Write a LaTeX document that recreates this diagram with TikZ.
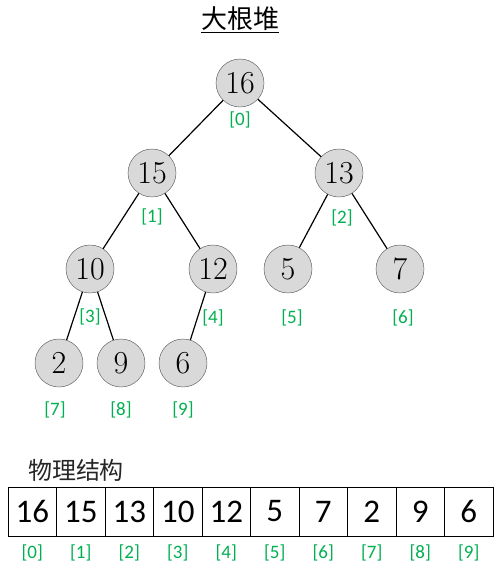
\documentclass[tikz,border=0pt]{standalone}
\usepackage{fontspec}
\newfontfamily\cjk{Noto Sans CJK SC}
\newfontfamily\calib{Carlito}
\usepackage{tikz}
\definecolor{idxgreen}{RGB}{0,176,80}
\definecolor{nodegray}{RGB}{217,217,217}

\begin{document}
\begin{tikzpicture}[x=1pt,y=-1pt,
    heapnode/.style={circle,draw=black!70,fill=nodegray,minimum size=48pt,inner sep=0pt,font=\fontsize{32}{32}\selectfont},
    idx/.style={text=idxgreen,font=\calib\fontsize{19}{19}\selectfont},
    cell/.style={draw,minimum width=48.5pt,minimum height=49pt,inner sep=0pt,font=\calib\fontsize{33}{33}\selectfont},
    edge/.style={line width=1.2pt}]
  \useasboundingbox (0,0) rectangle (503,571);
  \node[font=\cjk\fontsize{26}{26}\selectfont] (title) at (240,20) {\underline{大根堆}};
  % the heap as a tree
  \node[heapnode] (n0) at (240,83) {16};
  \node[heapnode] (n1) at (152,173) {15};
  \node[heapnode] (n2) at (339,173) {13};
  \node[heapnode] (n3) at (90,269) {10};
  \node[heapnode] (n4) at (213,269) {12};
  \node[heapnode] (n5) at (288,269) {5};
  \node[heapnode] (n6) at (400,269) {7};
  \node[heapnode] (n7) at (59,363) {2};
  \node[heapnode] (n8) at (121,363) {9};
  \node[heapnode] (n9) at (183,363) {6};
  \draw[edge] (n0) -- (n1);
  \draw[edge] (n0) -- (n2);
  \draw[edge] (n1) -- (n3);
  \draw[edge] (n1) -- (n4);
  \draw[edge] (n2) -- (n5);
  \draw[edge] (n2) -- (n6);
  \draw[edge] (n3) -- (n7);
  \draw[edge] (n3) -- (n8);
  \draw[edge] (n4) -- (n9);
  \node[idx] (t0) at (240,120) {[0]};
  \node[idx] (t1) at (152,217) {[1]};
  \node[idx] (t2) at (342,218) {[2]};
  \node[idx] (t3) at (90,317) {[3]};
  \node[idx] (t4) at (213,318) {[4]};
  \node[idx] (t5) at (292,318) {[5]};
  \node[idx] (t6) at (403,318) {[6]};
  \node[idx] (t7) at (55,410) {[7]};
  \node[idx] (t8) at (121,410) {[8]};
  \node[idx] (t9) at (183,410) {[9]};
  % the same heap stored as an array
  \node[font=\cjk\fontsize{24}{24}\selectfont,text=black!85] (phys) at (76,470) {物理结构};
  \foreach \v [count=\i from 0] in {16,15,13,10,12,5,7,2,9,6} {
    \node[cell] (c\i) at ({32.25+48.5*\i},511.5) {\v};
    \node[idx] (a\i) at ({32.25+48.5*\i},553) {[\i]};
  }
\end{tikzpicture}
\end{document}
